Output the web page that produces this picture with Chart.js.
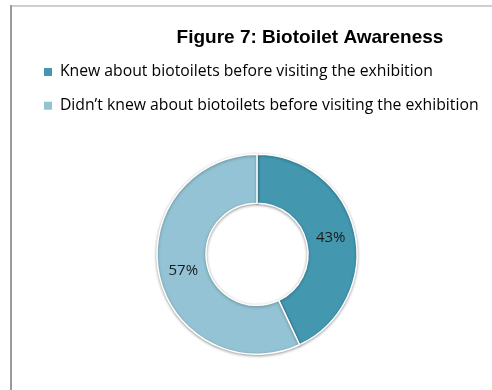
<!DOCTYPE html>
<html>
<head>
<meta charset="utf-8">
<script src="https://cdn.jsdelivr.net/npm/chart.js@4.4.0/dist/chart.umd.min.js"></script>
<style>
  html, body { margin: 0; padding: 0; background: #fff; }
  #wrap { position: relative; width: 492px; height: 390px; overflow: hidden; }
  #topline { position: absolute; left: 10px; top: 5px; width: 482px; height: 2px; background: #cfcfcf; }
  #leftline { position: absolute; left: 10px; top: 5px; width: 2px; height: 385px; background: #9a9a9a; }
  canvas { position: absolute; left: 0; top: 0; }
</style>
</head>
<body>
<div id="wrap">
  <canvas id="myChart" width="492" height="390"></canvas>
  <div id="topline"></div>
  <div id="leftline"></div>
</div>
<script>
const chartTitle = 'Figure 7: Biotoilet Awareness';
const categories = [
  'Knew about biotoilets before visiting the exhibition',
  'Didn\u2019t knew about biotoilets before visiting the exhibition'
];
const shares = [43, 57]; // percent
const sliceColors = ['#4398b0', '#93c3d4'];

// title sits right of centre, so it is drawn by hand
const titlePlugin = {
  id: 'figTitle',
  afterDraw(chart) {
    const ctx = chart.ctx;
    ctx.save();
    ctx.font = 'bold 19px "Liberation Sans", Arial, sans-serif';
    ctx.fillStyle = '#000';
    ctx.textAlign = 'center';
    ctx.textBaseline = 'alphabetic';
    ctx.fillText(chartTitle, 310, 43);
    ctx.restore();
  }
};

// soft grey shadow round the ring
const shadowPlugin = {
  id: 'ringShadow',
  beforeDatasetsDraw(chart) {
    const ctx = chart.ctx;
    ctx.save();
    ctx.shadowColor = 'rgba(0,0,0,0.35)';
    ctx.shadowBlur = 3;
    ctx.shadowOffsetX = 0;
    ctx.shadowOffsetY = 1;
  },
  afterDatasetsDraw(chart) {
    chart.ctx.restore();
  }
};

// percentage in the middle of each slice
const valuePlugin = {
  id: 'sliceValues',
  afterDatasetsDraw(chart) {
    const ctx = chart.ctx;
    const meta = chart.getDatasetMeta(0);
    ctx.save();
    ctx.font = '15px "Open Sans", Lato, sans-serif';
    ctx.fillStyle = '#1a1a1a';
    ctx.textAlign = 'center';
    ctx.textBaseline = 'middle';
    meta.data.forEach((arc, i) => {
      const p = arc.tooltipPosition();
      ctx.fillText(shares[i] + '%', p.x, p.y);
    });
    ctx.restore();
  }
};

const ctx = document.getElementById('myChart').getContext('2d');
const myChart = new Chart(ctx, {
  type: 'doughnut',
  data: {
    labels: categories,
    datasets: [{
      data: shares,
      backgroundColor: sliceColors,
      borderColor: '#ffffff',
      borderWidth: 1.5,
      radius: 100,
      cutout: '51%'
    }]
  },
  options: {
    responsive: false,
    animation: false,
    layout: { padding: { left: 26, right: 4, top: 46, bottom: 5 } },
    plugins: {
      title: { display: false },
      tooltip: { enabled: false },
      legend: {
        position: 'top',
        align: 'start',
        labels: {
          boxWidth: 8,
          boxHeight: 8,
          padding: 18,
          color: '#1a1a1a',
          font: { family: '"Open Sans", Lato, sans-serif', size: 15.75 },
          generateLabels(chart) {
            return categories.map((c, i) => ({
              text: c,
              fillStyle: sliceColors[i],
              strokeStyle: sliceColors[i],
              lineWidth: 0,
              index: i
            }));
          }
        }
      }
    }
  },
  plugins: [shadowPlugin, valuePlugin, titlePlugin]
});
</script>
</body>
</html>
